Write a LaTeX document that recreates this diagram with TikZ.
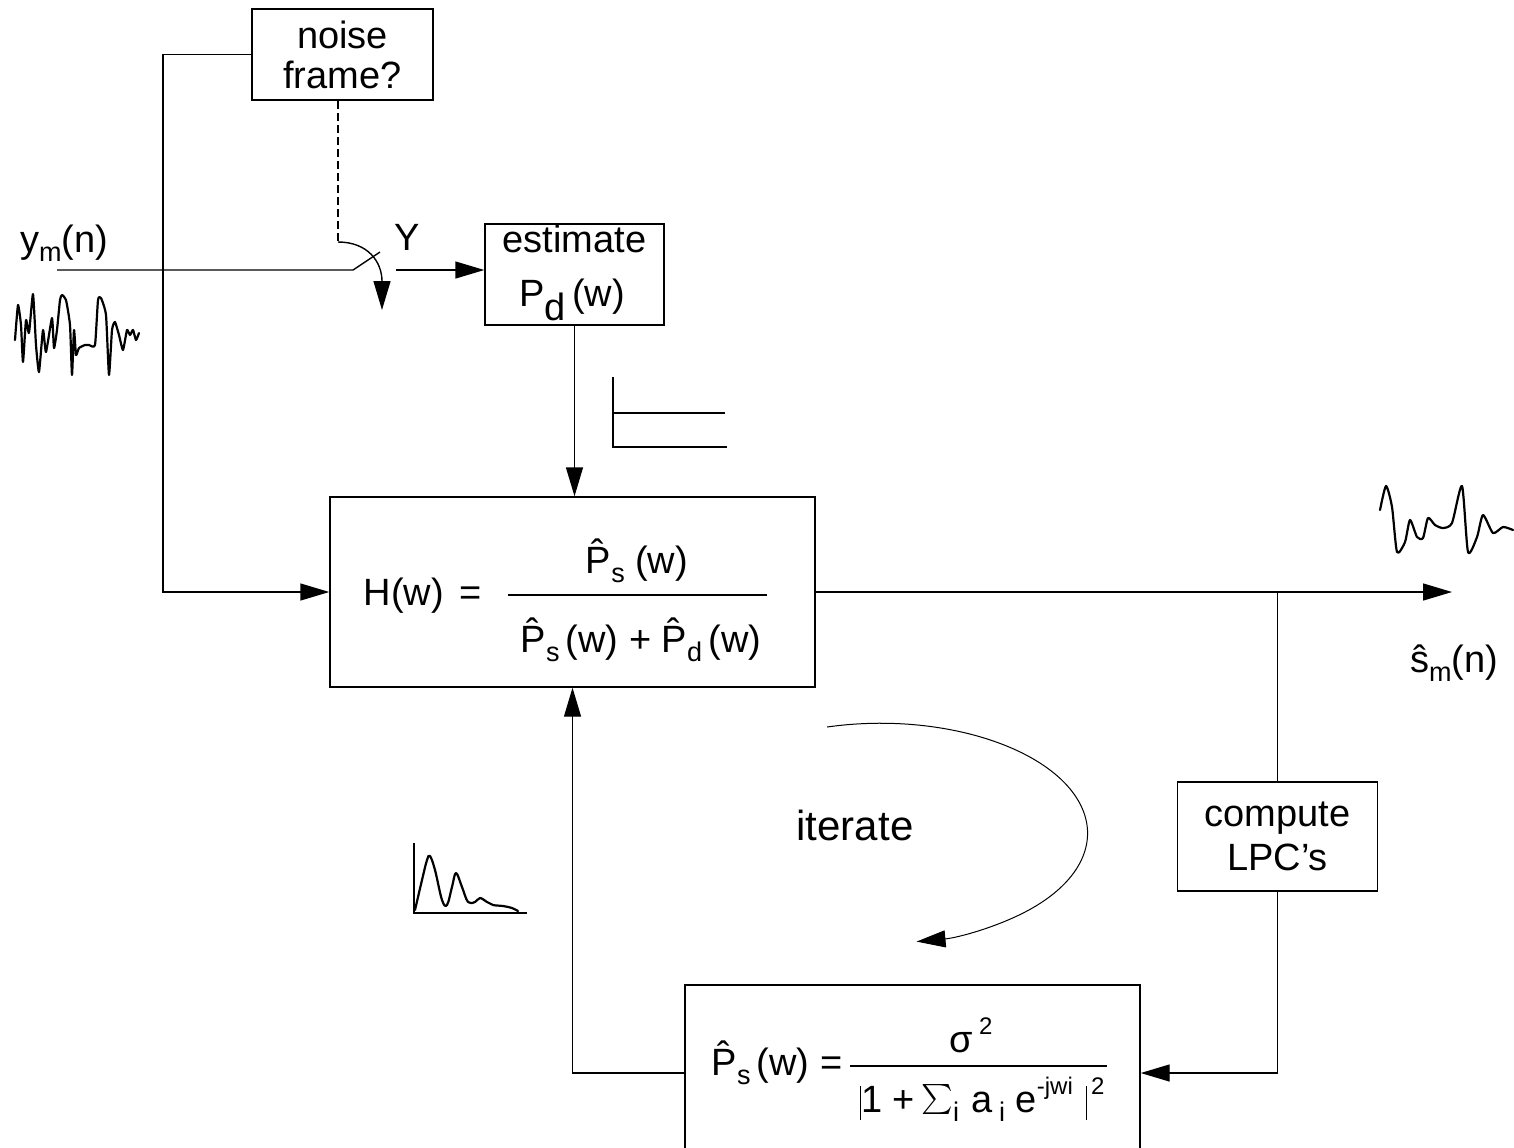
\documentclass[tikz,border=0pt]{standalone}
\usepackage{fontspec}
\setmainfont{Liberation Sans}
\usetikzlibrary{arrows.meta}
\newcommand\dn[1]{\raisebox{-0.45ex}{\fontsize{13.5}{14}\selectfont #1}}
\newcommand\up[1]{\raisebox{0.85ex}{\fontsize{12}{13}\selectfont #1}}
\newcommand\vbar{\rule[-4pt]{0.8pt}{17pt}}
\begin{document}
\begin{tikzpicture}[x=0.5pt,y=-0.5pt,line width=0.7pt,
  >={Triangle[length=14.5pt,width=8.5pt]},
  box/.style={draw,inner sep=0pt},
  txt/.style={inner sep=0pt,font=\fontsize{19}{21}\selectfont},
  wave/.style={line width=1.1pt,line join=round,line cap=round}]
\useasboundingbox (0,0) rectangle (1514,1147);
% boxes
\node[box,minimum width=90.5pt,minimum height=45.5pt,align=center,font=\fontsize{19}{20}\selectfont] (noise) at (342.5,54.5) {noise\\frame?};
\node[box,minimum width=89.5pt,minimum height=50.5pt] (est) at (574.5,274.5) {};
\node[txt,anchor=base] (estt) at (574.5,252) {estimate};
\node[txt,anchor=base] (estp) at (572,306) {P\raisebox{-0.7ex}{d}\,(w)};
\node[box,minimum width=242.5pt,minimum height=95pt] (hbox) at (572.5,592) {};
\node[box,minimum width=100pt,minimum height=54.5pt,align=center,font=\fontsize{19}{22}\selectfont] (lpc) at (1277.5,836.5) {compute\\LPC's};
\node[box,minimum width=227.5pt,minimum height=88pt] (pbox) at (912.5,1073) {};
% H formula
\node[txt,anchor=base] (hw) at (404,605) {H(w)};
\node[txt,anchor=base] (heq) at (471,605) {=};
\node[txt,anchor=base] (hnum) at (637,573) {\^{P}\dn{s} (w)};
\node[txt,anchor=base] (hden) at (641,652) {\^{P}\dn{s}\,(w) + \^{P}\dn{d}\,(w)};
\coordinate (hf1) at (508,595); \coordinate (hf2) at (767,595);
\draw[line width=0.6pt] (hf1) -- (hf2);
% Ps formula
\node[txt,anchor=base] (bl) at (777,1075) {\^{P}\dn{s}\,(w) =};
\node[txt,anchor=base] (sig) at (971,1052) {σ\,\up{2}};
\node[txt,anchor=base] (bden) at (982,1112) {\vbar1 +\,\scalebox{1.5}{$\sum$}\dn{i}\,\,a\,\dn{i} e\up{-jwi}\,\,\vbar\up{\,2}};
\coordinate (bf1) at (850,1066); \coordinate (bf2) at (1107,1066);
\draw[line width=0.6pt] (bf1) -- (bf2);
% labels
\node[txt] (ym) at (64,243) {y\dn{m}(n)};
\node[txt] (sm) at (1454,663) {\^{s}\dn{m}(n)};
\node[txt] (Y) at (407,237) {Y};
\node[txt,anchor=base,font=\fontsize{21}{24}\selectfont] (it) at (855,840) {iterate};
% connectors
\coordinate (c1) at (163,54.5);
\draw[->] (noise.west) -- (c1) |- (hbox.west);
\coordinate (in0) at (57,270);
\coordinate (sw) at (353,270);
\coordinate (swt) at (380,252);
\coordinate (sout) at (396,270);
\draw (in0) -- (sw) -- (swt);
\draw[->] (sout) -- (sout -| est.west);
\coordinate (d0) at (338,101);
\coordinate (d1) at (338,242);
\coordinate (d2) at (382,310);
\draw[dash pattern=on 4pt off 2pt,line width=0.6pt] (d0) -- (d1);
\draw[->] (d1) .. controls (368,242) and (382,262) .. (d2);
\draw[->] (est.south) -- (est.south |- hbox.north);
\coordinate (out) at (1452,592);
\draw[->] (hbox.east) -- (out);
\coordinate (br) at (1277.5,592);
\draw (br) -- (lpc.north);
\draw[->] (lpc.south) |- (pbox.east);
\draw[->] (pbox.west) -| (hbox.south);
% iterate arrow
\coordinate (it0) at (827,727);
\draw[->,line width=0.5pt] (it0) arc[start angle=-105,end angle=80,x radius=207,y radius=110];
% Pd spectrum
\draw[line width=1pt] (613,377) -- (613,447) -- (727,447);
\draw[line width=1pt] (613,413) -- (725,413);
% Ps spectrum
\draw[line width=1pt] (414,843) -- (414,913) -- (527,913);
\draw[wave] plot[smooth,tension=0.6] coordinates {(415,910) (422,880) (427,860) (430,856) (435,870) (442,900) (447,905) (452,887) (456,873) (462,887) (468,902) (475,902) (480,898) (487,902) (493,905) (503,906) (512,908) (518,911)};
% input waveform
\draw[wave] plot[smooth,tension=0.3] coordinates {(15,340) (18,305) (21,325) (23,362) (26,320) (29,333) (33,294) (36,345) (39,372) (43,330) (46,352) (52,318) (54,348) (57,330) (60,300) (62,295) (66,300) (70,325) (72,375) (74,330) (76,355) (79,348) (85,345) (89,345) (95,345) (98,300) (101,298) (106,315) (109,375) (112,330) (115,322) (119,335) (123,350) (127,330) (130,335) (133,330) (136,340) (139,333)};
% output waveform
\draw[wave] plot[smooth,tension=0.4] coordinates {(1380,510) (1386,486) (1392,507) (1397,552) (1405,542) (1410,520) (1417,537) (1423,538) (1428,518) (1435,525) (1443,528) (1452,523) (1462,486) (1468,552) (1477,537) (1483,515) (1493,533) (1503,527) (1513,530)};
\end{tikzpicture}
\end{document}
